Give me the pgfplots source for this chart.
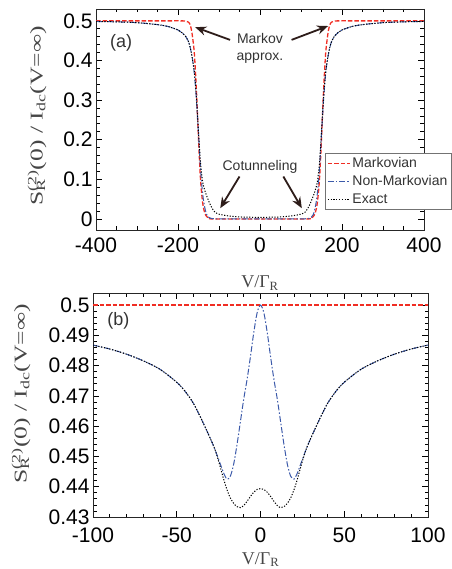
\documentclass[border=0pt]{standalone}
\usepackage{fontspec}
\setmainfont{Liberation Sans}
\newfontfamily\labelfont{Liberation Serif}
\usepackage{graphicx}
\usepackage{pgfplots}
\pgfplotsset{compat=1.18}
\usetikzlibrary{arrows.meta}

\definecolor{mkred}{RGB}{240,45,35}
\definecolor{nmblue}{RGB}{60,90,170}
\definecolor{arrowbrown}{RGB}{45,28,25}
\definecolor{labelgray}{RGB}{70,70,70}

\newcommand{\ylab}{\labelfont S\rlap{\textsubscript{R}}\textsuperscript{(2)}(0) / I\textsubscript{dc}(V=\char"221E)}
\newcommand{\xlab}{\labelfont V/\char"0393\textsubscript{R}}

\tikzset{
  mkstyle/.style={draw=mkred, line width=1.3pt, dash pattern=on 4.5pt off 2pt},
  nmstyle/.style={draw=nmblue, line width=1pt, dash pattern=on 6pt off 2pt on 1.5pt off 2pt},
  exstyle/.style={draw=black, line width=1pt, dash pattern=on 1.2pt off 1.6pt},
}

\pgfplotsset{
  panel/.style={
    scale only axis,
    axis line style={line width=0.9pt, black!85},
    tick style={line width=0.7pt, black},
    major tick length=6pt, minor tick length=3.5pt,
    tick label style={font=\fontsize{21}{21}\selectfont},
    /pgf/number format/assume math mode=true,
    label style={color=labelgray},
    xlabel={\fontsize{18}{18}\selectfont\xlab},
    ylabel={\scalebox{1.42}[1]{\fontsize{18}{18}\selectfont\ylab}},
  },
}

\begin{document}
\begin{tikzpicture}[x=1pt,y=1pt]
\path[use as bounding box] (0,0) rectangle (451,569);

% panel (a)
\begin{axis}[panel,
  at={(96pt,339pt)}, anchor=south west,
  width=328pt, height=221pt,
  xmin=-400, xmax=400, ymin=-0.028, ymax=0.53,
  xtick={-400,-200,0,200,400}, minor x tick num=3,
  ytick={0,0.1,0.2,0.3,0.4,0.5}, minor y tick num=4,
  xticklabel style={yshift=-4pt},
  xlabel style={at={(axis description cs:0.5,-0.24)}, anchor=center},
  ylabel style={at={(axis description cs:-0.18,0.516)}, anchor=center, rotate=0},
  legend style={at={(0.698,0.347)}, anchor=north west, draw=black!55,
    font=\fontsize{14}{15}\selectfont, text=black!80,
    inner sep=2pt, row sep=2.5pt, fill=white},
  legend cell align=left,
  legend image code/.code={\draw[#1] (0pt,0pt) -- (22pt,0pt);},
]
\addplot[mkstyle, smooth] coordinates {
  (-400,0.5) (-250,0.5) (-190,0.5) (-180,0.499) (-175,0.497) (-172,0.494)
  (-170,0.489) (-167,0.476) (-164,0.455) (-160,0.416) (-155,0.323)
  (-150,0.201) (-145,0.099) (-140,0.042) (-135,0.016) (-130,0.006)
  (-125,0.002) (-115,0) (0,0) (115,0) (125,0.002) (130,0.006) (135,0.016)
  (140,0.042) (145,0.099) (150,0.201) (155,0.323) (160,0.416) (164,0.455)
  (167,0.476) (170,0.489) (172,0.494) (175,0.497) (180,0.499) (190,0.5)
  (250,0.5) (400,0.5)};
\addlegendentry{Markovian}
\addplot[nmstyle, smooth] coordinates {
  (-400,0.4985) (-350,0.4975) (-300,0.4955) (-250,0.4905) (-225,0.486)
  (-200,0.477) (-190,0.470) (-180,0.459) (-175,0.449) (-170,0.432)
  (-165,0.405) (-160,0.365) (-155,0.300) (-150,0.215) (-145,0.125)
  (-140,0.065) (-135,0.030) (-130,0.011) (-125,0.004) (-120,0.0015)
  (-110,0.0003) (-100,0) (0,0) (100,0) (110,0.0003) (120,0.0015)
  (125,0.004) (130,0.011) (135,0.030) (140,0.065) (145,0.125) (150,0.215)
  (155,0.300) (160,0.365) (165,0.405) (170,0.432) (175,0.449) (180,0.459)
  (190,0.470) (200,0.477) (225,0.486) (250,0.4905) (300,0.4955)
  (350,0.4975) (400,0.4985)};
\addlegendentry{Non-Markovian}
\addplot[exstyle, smooth] coordinates {
  (-400,0.4985) (-350,0.4975) (-300,0.4955) (-250,0.4905) (-225,0.486)
  (-200,0.477) (-190,0.470) (-180,0.459) (-175,0.449) (-170,0.432)
  (-165,0.405) (-160,0.370) (-155,0.305) (-150,0.220) (-145,0.140)
  (-140,0.095) (-135,0.073) (-130,0.058) (-125,0.045) (-120,0.033)
  (-115,0.024) (-110,0.017) (-100,0.012) (-80,0.008) (-50,0.005) (0,0.004)
  (50,0.005) (80,0.008) (100,0.012) (110,0.017) (115,0.024) (120,0.033)
  (125,0.045) (130,0.058) (135,0.073) (140,0.095) (145,0.140) (150,0.220)
  (155,0.305) (160,0.370) (165,0.405) (170,0.432) (175,0.449) (180,0.459)
  (190,0.470) (200,0.477) (225,0.486) (250,0.4905) (300,0.4955)
  (350,0.4975) (400,0.4985)};
\addlegendentry{Exact}

\node[font=\fontsize{18}{18}\selectfont, text=black!80] at (axis cs:-339,0.444) {(a)};
\node[font=\fontsize{14}{17}\selectfont, text=black!80, align=center] at (axis cs:0,0.43) {Markov\\approx.};
\node[font=\fontsize{14}{17}\selectfont, text=black!80] at (axis cs:0,0.132) {Cotunneling};
\draw[arrowbrown, line width=1.8pt, -{Stealth[length=11pt,width=9pt]}]
  (axis cs:-73,0.452) -- (axis cs:-158,0.484);
\draw[arrowbrown, line width=1.8pt, -{Stealth[length=11pt,width=9pt]}]
  (axis cs:77,0.452) -- (axis cs:166,0.487);
\draw[arrowbrown, line width=1.8pt, -{Stealth[length=11pt,width=9pt]}]
  (axis cs:-50,0.107) -- (axis cs:-97,0.027);
\draw[arrowbrown, line width=1.8pt, -{Stealth[length=11pt,width=9pt]}]
  (axis cs:57,0.107) -- (axis cs:102,0.027);
\end{axis}

% panel (b)
\begin{axis}[panel,
  at={(93pt,52pt)}, anchor=south west,
  width=335pt, height=224pt,
  xmin=-100, xmax=100, ymin=0.43, ymax=0.504,
  xtick={-100,-50,0,50,100}, minor x tick num=4,
  ytick={0.43,0.44,0.45,0.46,0.47,0.48,0.49,0.5}, minor y tick num=4,
  xticklabel style={yshift=-7pt},
  xlabel style={at={(axis description cs:0.5,-0.19)}, anchor=center},
  ylabel style={at={(axis description cs:-0.215,0.55)}, anchor=center, rotate=0},
]
\addplot[mkstyle] coordinates {(-100,0.5) (-50,0.5) (0,0.5) (50,0.5) (100,0.5)};
\addplot[nmstyle, smooth] coordinates {
  (-100,0.4868) (-90,0.4855) (-80,0.4838) (-70,0.4816) (-60,0.4788)
  (-50,0.4745) (-45,0.4715) (-40,0.4675) (-35,0.4620) (-30,0.4560)
  (-27,0.4520) (-24,0.4475) (-22,0.4445) (-20,0.4425) (-18,0.4435)
  (-16,0.4475) (-14,0.4540) (-12,0.4615) (-10,0.4690) (-8,0.4755)
  (-6,0.4830) (-4,0.4910) (-2,0.4975) (0,0.5000) (2,0.4975) (4,0.4910)
  (6,0.4830) (8,0.4755) (10,0.4690) (12,0.4615) (14,0.4540) (16,0.4475)
  (18,0.4435) (20,0.4425) (22,0.4445) (24,0.4475) (27,0.4520) (30,0.4560)
  (35,0.4620) (40,0.4675) (45,0.4715) (50,0.4745) (60,0.4788) (70,0.4816)
  (80,0.4838) (90,0.4855) (100,0.4868)};
\addplot[exstyle, smooth] coordinates {
  (-100,0.4868) (-90,0.4855) (-80,0.4838) (-70,0.4816) (-60,0.4788)
  (-50,0.4745) (-45,0.4715) (-40,0.4675) (-35,0.4620) (-30,0.4560)
  (-27,0.4520) (-24,0.4465) (-22,0.4425) (-20,0.4390) (-18,0.4363)
  (-16,0.4345) (-14,0.4334) (-12,0.4331) (-10,0.4338) (-8,0.4352)
  (-6,0.4368) (-4,0.4382) (-2,0.4391) (0,0.4394) (2,0.4391) (4,0.4382)
  (6,0.4368) (8,0.4352) (10,0.4338) (12,0.4331) (14,0.4334) (16,0.4345)
  (18,0.4363) (20,0.4390) (22,0.4425) (24,0.4465) (27,0.4520) (30,0.4560)
  (35,0.4620) (40,0.4675) (45,0.4715) (50,0.4745) (60,0.4788) (70,0.4816)
  (80,0.4838) (90,0.4855) (100,0.4868)};
\node[font=\fontsize{18}{18}\selectfont, text=black!80] at (axis cs:-84.8,0.4947) {(b)};
\end{axis}
\end{tikzpicture}
\end{document}
